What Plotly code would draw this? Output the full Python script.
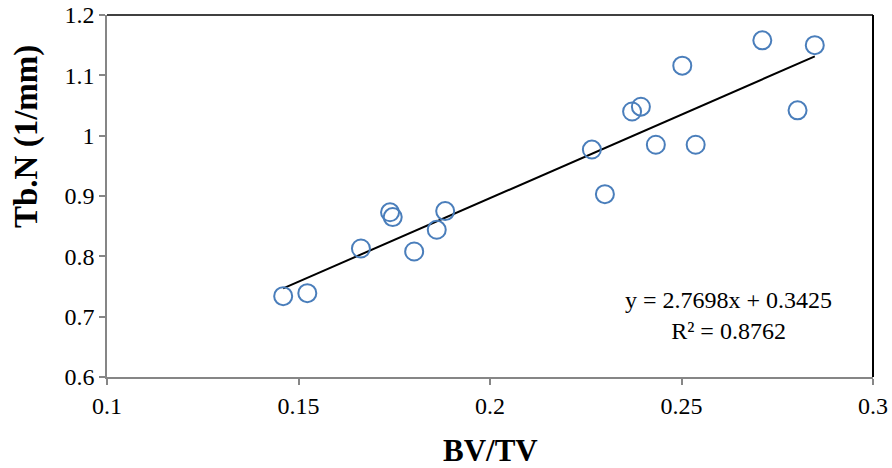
import plotly.graph_objects as go

bv_tv = [0.146, 0.1523, 0.1663, 0.1739, 0.1746, 0.1802, 0.1861, 0.1883,
         0.2266, 0.2300, 0.2371, 0.2394, 0.2433, 0.2537, 0.2502, 0.2711, 0.2803, 0.2848]
tb_n = [0.734, 0.739, 0.813, 0.873, 0.865, 0.808, 0.844, 0.875,
        0.977, 0.903, 1.040, 1.048, 0.985, 0.985, 1.116, 1.158, 1.042, 1.150]

slope = 2.7698
intercept = 0.3425
r2 = 0.8762

x_ticks = [0.1, 0.15, 0.2, 0.25, 0.3]
x_labels = ["0.1", "0.15", "0.2", "0.25", "0.3"]
y_ticks = [0.6, 0.7, 0.8, 0.9, 1.0, 1.1, 1.2]
y_labels = ["0.6", "0.7", "0.8", "0.9", "1", "1.1", "1.2"]

FONT = "Liberation Serif"
BLUE = "#4A7EBB"
GRAY = "#868686"

W, H = 892, 468
ML, MR, MT, MB = 107, 19, 15, 91
PW, PH = W - ML - MR, H - MT - MB

xmin, xmax = min(bv_tv), max(bv_tv)

fig = go.Figure()
fig.add_trace(go.Scatter(
    x=[xmin, xmax], y=[slope * xmin + intercept, slope * xmax + intercept],
    mode="lines", line=dict(color="black", width=2), showlegend=False,
    hoverinfo="skip"))
fig.add_trace(go.Scatter(
    x=bv_tv, y=tb_n, mode="markers",
    marker=dict(symbol="circle-open", size=18, color=BLUE, line=dict(width=2, color=BLUE)),
    showlegend=False))

fig.update_layout(
    width=W, height=H,
    margin=dict(l=ML, r=MR, t=MT, b=MB),
    paper_bgcolor="white", plot_bgcolor="white",
    font=dict(family=FONT, color="black", size=24),
    xaxis=dict(range=[0.1, 0.3], tickvals=x_ticks, ticktext=x_labels, automargin=False,
               showgrid=False, zeroline=False, showline=True, linecolor=GRAY, linewidth=1.5,
               ticks="outside", ticklen=6, tickcolor=GRAY, tickwidth=1.5,
               tickfont=dict(family=FONT, size=24)),
    yaxis=dict(range=[0.6, 1.2], tickvals=y_ticks, ticktext=y_labels, automargin=False,
               showgrid=False, zeroline=False, showline=True, linecolor=GRAY, linewidth=1.5,
               ticks="outside", ticklen=6, tickcolor=GRAY, tickwidth=1.5,
               tickfont=dict(family=FONT, size=24)),
    shapes=[
        dict(type="line", xref="paper", yref="paper", x0=0, x1=1, y0=1, y1=1,
             line=dict(color="black", width=1.5)),
        dict(type="line", xref="paper", yref="paper", x0=1, x1=1, y0=0, y1=1,
             line=dict(color="black", width=2)),
    ],
    annotations=[
        dict(x=(728 - ML) / PW, y=1 - (315 - MT) / PH, xref="paper", yref="paper",
             showarrow=False,
             text="y = %.4fx + %.4f<br>R² = %.4f" % (slope, intercept, r2),
             align="center", font=dict(family=FONT, size=24),
             xanchor="center", yanchor="middle"),
        dict(x=(490 - ML) / PW, y=1 - (450 - MT) / PH, xref="paper", yref="paper",
             showarrow=False, text="<b>BV/TV</b>", font=dict(family=FONT, size=31),
             xanchor="center", yanchor="middle"),
        dict(x=-(ML - 26) / PW, y=1 - (137 - MT) / PH, xref="paper", yref="paper",
             showarrow=False, text="<b>Tb.N (1/mm)</b>", font=dict(family=FONT, size=33),
             textangle=-90, xanchor="center", yanchor="middle"),
    ],
)

fig.write_html("out.html")
